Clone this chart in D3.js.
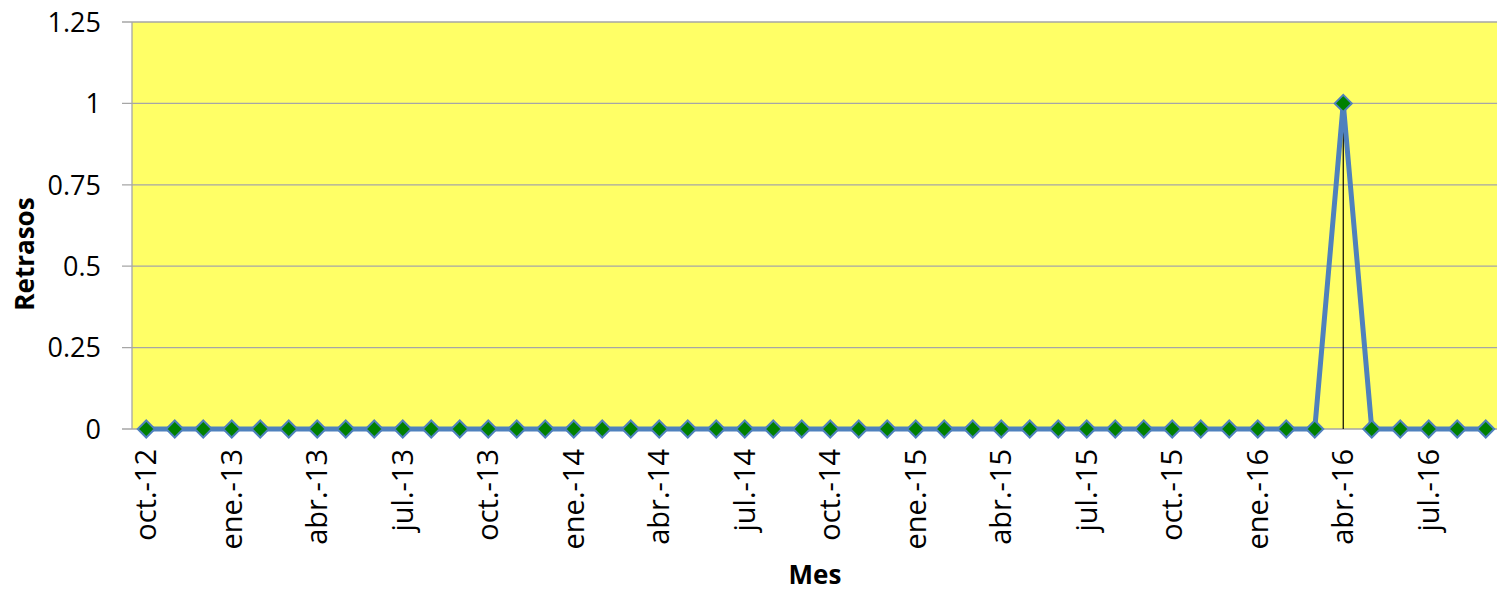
<!DOCTYPE html>
<html>
<head>
<meta charset="utf-8">
<script src="https://cdn.jsdelivr.net/npm/d3@7"></script>
<style>
  html, body { margin: 0; padding: 0; background: #ffffff; }
  svg { display: block; }
</style>
</head>
<body>
<svg id="chart" width="1497" height="591"></svg>
<script>
// Monthly delays, Oct 2012 – Sep 2016
const months = [
  "oct.-12","nov.-12","dic.-12","ene.-13","feb.-13","mar.-13","abr.-13","may.-13","jun.-13",
  "jul.-13","ago.-13","sep.-13","oct.-13","nov.-13","dic.-13","ene.-14","feb.-14","mar.-14",
  "abr.-14","may.-14","jun.-14","jul.-14","ago.-14","sep.-14","oct.-14","nov.-14","dic.-14",
  "ene.-15","feb.-15","mar.-15","abr.-15","may.-15","jun.-15","jul.-15","ago.-15","sep.-15",
  "oct.-15","nov.-15","dic.-15","ene.-16","feb.-16","mar.-16","abr.-16","may.-16","jun.-16",
  "jul.-16","ago.-16","sep.-16"
];
const retrasos = [
  0,0,0,0,0,0,0,0,0,
  0,0,0,0,0,0,0,0,0,
  0,0,0,0,0,0,0,0,0,
  0,0,0,0,0,0,0,0,0,
  0,0,0,0,0,0,1,0,0,
  0,0,0
];
const yTicks = [0, 0.25, 0.5, 0.75, 1, 1.25];
const yTickLabels = ["0", "0.25", "0.5", "0.75", "1", "1.25"];

const data = months.map((m, i) => ({ mes: m, valor: retrasos[i] }));

const svg = d3.select("#chart");
const plotLeft = 132, plotTop = 22, plotBottom = 429, step = 28.5;
const plotRight = plotLeft + step * months.length;

const x = d3.scaleBand().domain(months).range([plotLeft, plotRight]).paddingInner(0).paddingOuter(0);
const cx = m => x(m) + x.bandwidth() / 2;
const y = d3.scaleLinear().domain([0, 1.25]).range([plotBottom, plotTop]);

const font = "'Open Sans', 'Liberation Sans', sans-serif";

// Plot area
svg.append("rect")
  .attr("x", plotLeft).attr("y", plotTop)
  .attr("width", 1497 - plotLeft).attr("height", plotBottom - plotTop)
  .attr("fill", "#ffff66");

// Horizontal gridlines
svg.append("g").selectAll("line").data(yTicks).join("line")
  .attr("x1", plotLeft - 10).attr("x2", 1497)
  .attr("y1", d => y(d)).attr("y2", d => y(d))
  .attr("stroke", "#a6a6a6").attr("stroke-width", 1.3);

// Vertical axis line
svg.append("line")
  .attr("x1", plotLeft).attr("x2", plotLeft)
  .attr("y1", plotTop).attr("y2", plotBottom)
  .attr("stroke", "#a6a6a6").attr("stroke-width", 1.3);

// Y tick labels
svg.append("g").selectAll("text").data(yTicks).join("text")
  .attr("x", 101).attr("y", d => y(d))
  .attr("dy", "0.36em")
  .attr("text-anchor", "end")
  .attr("font-family", font).attr("font-size", 27)
  .attr("fill", "#000")
  .text((d, i) => yTickLabels[i]);

// X tick labels, every third month
svg.append("g").selectAll("text")
  .data(months.filter((m, i) => i % 3 === 0)).join("text")
  .attr("transform", m => `translate(${cx(m) + 10},449) rotate(-90)`)
  .attr("text-anchor", "end")
  .attr("font-family", font).attr("font-size", 29)
  .attr("fill", "#000")
  .text(m => m);

// Drop lines
svg.append("g").selectAll("line").data(data).join("line")
  .attr("x1", d => cx(d.mes)).attr("x2", d => cx(d.mes))
  .attr("y1", d => y(d.valor)).attr("y2", y(0))
  .attr("stroke", "#000").attr("stroke-width", 1.2);

// Series line
const line = d3.line().x(d => cx(d.mes)).y(d => y(d.valor));
svg.append("path")
  .datum(data)
  .attr("d", line)
  .attr("fill", "none")
  .attr("stroke", "#4f81bd")
  .attr("stroke-width", 5)
  .attr("stroke-linejoin", "round");

// Diamond markers
const r = 8.5;
svg.append("g").selectAll("path").data(data).join("path")
  .attr("transform", d => `translate(${cx(d.mes)},${y(d.valor)})`)
  .attr("d", `M0,${-r}L${r},0L0,${r}L${-r},0Z`)
  .attr("fill", "#008000")
  .attr("stroke", "#4f81bd")
  .attr("stroke-width", 2);

// Axis titles
svg.append("text")
  .attr("transform", `translate(34,254) rotate(-90)`)
  .attr("text-anchor", "middle")
  .attr("font-family", font).attr("font-size", 26).attr("font-weight", "bold")
  .text("Retrasos");

svg.append("text")
  .attr("x", 815).attr("y", 584)
  .attr("text-anchor", "middle")
  .attr("font-family", font).attr("font-size", 26).attr("font-weight", "bold")
  .text("Mes");
</script>
</body>
</html>
